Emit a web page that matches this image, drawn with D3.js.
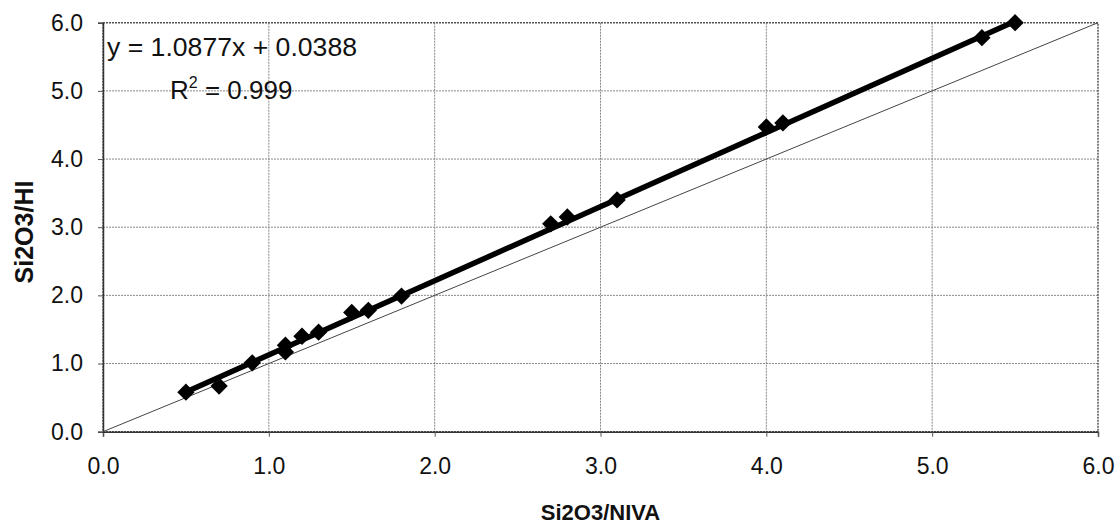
<!DOCTYPE html>
<html><head><meta charset="utf-8">
<script src="https://cdn.jsdelivr.net/npm/d3@7"></script>
<style>body{margin:0;background:#fff;} svg{display:block;font-family:"Liberation Sans",Arial,sans-serif;}</style>
</head><body><svg id="c" width="1117" height="526"></svg>
<script>
const xVals = [0.5,0.7,0.9,1.1,1.1,1.2,1.3,1.5,1.6,1.8,2.7,2.8,3.1,4.0,4.1,5.3,5.5];
const yVals = [0.58,0.67,1.01,1.27,1.17,1.40,1.46,1.75,1.78,1.99,3.05,3.15,3.40,4.47,4.53,5.78,6.0];
const ticks = [0,1,2,3,4,5,6];
const slope = 1.0877, intercept = 0.0388;
const eqText = "y = 1.0877x + 0.0388";
const r2Value = "0.999";
const xTitle = "Si2O3/NIVA", yTitle = "Si2O3/HI";

const svg = d3.select("#c");
const L=103, R=1098, T=22.7, B=431.7;
const x = d3.scaleLinear().domain([0,6]).range([L,R]);
const y = d3.scaleLinear().domain([0,6]).range([B,T]);

// gridlines
svg.append("g").selectAll("line").data(ticks.slice(1,-1)).join("line")
  .attr("x1",d=>x(d)).attr("x2",d=>x(d)).attr("y1",T).attr("y2",B)
  .attr("stroke","#888").attr("stroke-width",1).attr("stroke-dasharray","2,1");
svg.append("g").selectAll("line").data(ticks.slice(1,-1)).join("line")
  .attr("y1",d=>y(d)).attr("y2",d=>y(d)).attr("x1",L).attr("x2",R)
  .attr("stroke","#888").attr("stroke-width",1).attr("stroke-dasharray","2,1");

// border
svg.append("rect").attr("x",L).attr("y",T).attr("width",R-L).attr("height",B-T)
  .attr("fill","none").attr("stroke","#555").attr("stroke-width",1.5).attr("stroke-dasharray","2,1");

// axes
const xAxis = svg.append("g").attr("transform",`translate(0,${B})`)
  .call(d3.axisBottom(x).tickValues(ticks).tickFormat(d3.format(".1f")).tickSize(5).tickPadding(21));
const yAxis = svg.append("g").attr("transform",`translate(${L},0)`)
  .call(d3.axisLeft(y).tickValues(ticks).tickFormat(d3.format(".1f")).tickSize(5).tickPadding(15));
[xAxis,yAxis].forEach(a=>{
  a.attr("font-size",null).attr("font-family",null);
  a.select(".domain").attr("stroke","#333").attr("stroke-width",1.5);
  a.selectAll(".tick line").attr("stroke","#555");
  a.selectAll("text").style("font-size","23px").attr("fill","#111").style("font-family","'Liberation Sans', Arial, sans-serif");
});

// 1:1 line
svg.append("line").attr("x1",x(0)).attr("y1",y(0)).attr("x2",x(6)).attr("y2",y(6))
  .attr("stroke","#444").attr("stroke-width",1);

// trend line
const x0 = d3.min(xVals), x1 = d3.max(xVals);
svg.append("line").attr("x1",x(x0)).attr("y1",y(slope*x0+intercept))
  .attr("x2",x(x1)).attr("y2",y(slope*x1+intercept))
  .attr("stroke","#000").attr("stroke-width",5.5);

// markers
svg.append("g").selectAll("path").data(xVals.map((v,i)=>[v,yVals[i]])).join("path")
  .attr("d",d3.symbol().type(d3.symbolSquare).size(150))
  .attr("transform",d=>`translate(${x(d[0])},${y(d[1])}) rotate(45)`)
  .attr("fill","#000");

// equation
svg.append("text").attr("x",107).attr("y",56).attr("font-size",26).attr("fill","#111")
  .attr("textLength",250).attr("lengthAdjust","spacingAndGlyphs").text(eqText);
const r2 = svg.append("text").attr("x",170).attr("y",99).attr("font-size",26).attr("fill","#111");
r2.append("tspan").text("R");
r2.append("tspan").attr("dy",-11).attr("font-size",16).text("2");
r2.append("tspan").attr("dy",11).text(" = "+r2Value);

// titles
svg.append("text").attr("x",(L+R)/2).attr("y",520).attr("text-anchor","middle")
  .attr("font-size",22).attr("font-weight","bold").attr("fill","#111").text(xTitle);
svg.append("text").attr("transform",`translate(33,232) rotate(-90)`).attr("text-anchor","middle")
  .attr("font-size",25).attr("font-weight","bold").attr("fill","#111").text(yTitle);
</script></body></html>
